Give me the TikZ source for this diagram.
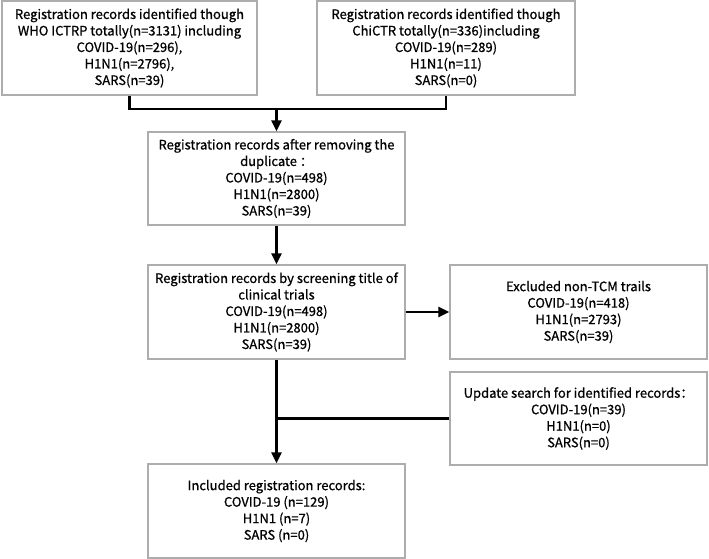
\documentclass[tikz,border=0pt]{standalone}
\usepackage{fontspec}
\setmainfont{Noto Sans CJK SC}[FakeBold=0.8]
\usetikzlibrary{arrows.meta}
\begin{document}
\begin{tikzpicture}[x=1pt,y=-1pt,
  box/.style={draw=black!32,line width=1.1pt,rectangle,minimum height=94pt,
    align=center,inner sep=0pt,font=\fontsize{13}{16.5}\selectfont},
  flow/.style={line width=2.5pt,draw=black},
  arr/.style={flow,-{Triangle[width=10pt,length=11pt]}}]
\useasboundingbox (0,0) rectangle (709,559);
\node[box,minimum width=255pt] (who) at (129.5,48) {Registration records identified though\\WHO ICTRP totally(n=3131) including\\COVID-19(n=296),\\H1N1(n=2796),\\SARS(n=39)};
\node[box,minimum width=258pt] (chi) at (446,48) {Registration records identified though\\ChiCTR totally(n=336)including\\COVID-19(n=289)\\H1N1(n=11)\\SARS(n=0)};
\node[box,minimum width=257pt,minimum height=93pt] (dup) at (276.5,178.5) {Registration records after removing the\\duplicate ：\\COVID-19(n=498)\\H1N1(n=2800)\\SARS(n=39)};
\node[box,minimum width=257pt] (scr) at (276.5,312) {Registration records by screening title of\\clinical trials\\COVID-19(n=498)\\H1N1(n=2800)\\SARS(n=39)};
\node[box,minimum width=257pt] (exc) at (578.5,312) {Excluded non-TCM trails\\COVID-19(n=418)\\H1N1(n=2793)\\SARS(n=39)};
\node[box,minimum width=257pt,minimum height=93pt] (upd) at (578.5,418.5) {Update search for identified records：\\COVID-19(n=39)\\H1N1(n=0)\\SARS(n=0)};
\node[box,minimum width=257pt] (inc) at (276.5,511) {Included registration records:\\COVID-19 (n=129)\\H1N1 (n=7)\\SARS (n=0)};
\coordinate (j1) at (276.5,109);
\coordinate (j2) at (276.5,418.5);
\draw[flow] (who.south) |- (j1) -| (chi.south);
\draw[arr] (j1) -- (dup.north);
\draw[arr] (dup.south) -- (scr.north);
\draw[arr] (scr.east) -- (exc.west);
\draw[arr] (scr.south) -- (inc.north);
\draw[flow] (upd.west) -- (j2);
\end{tikzpicture}
\end{document}
